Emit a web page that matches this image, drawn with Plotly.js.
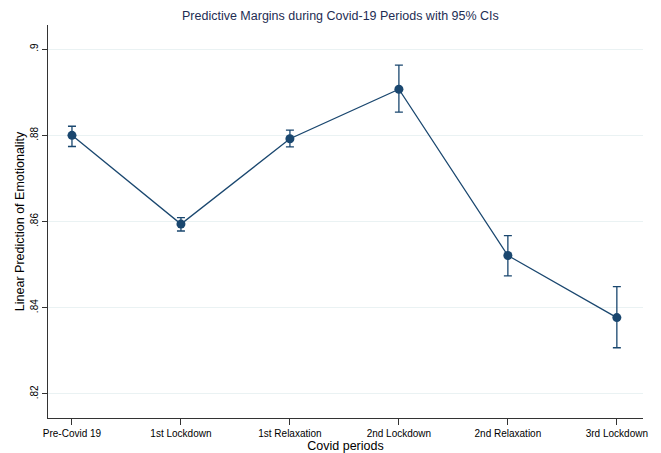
<!DOCTYPE html>
<html><head><meta charset="utf-8">
<script src="https://cdn.plot.ly/plotly-3.0.1.min.js"></script>
<style>body{margin:0;background:#fff}#c{width:661px;height:453px}</style>
</head><body><div id="c"></div>
<script>
const periods = ["Pre-Covid 19","1st Lockdown","1st Relaxation","2nd Lockdown","2nd Relaxation","3rd Lockdown"];
const margins = [0.8800, 0.8594, 0.8792, 0.8907, 0.8521, 0.8377];
const ciUpper = [0.8821, 0.8609, 0.8812, 0.8963, 0.8567, 0.8449];
const ciLower = [0.8774, 0.8578, 0.8773, 0.8854, 0.8474, 0.8307];
const yTickVals = [0.82, 0.84, 0.86, 0.88, 0.9];
const yTickText = [".82", ".84", ".86", ".88", ".9"];

const idx = periods.map((_, i) => i);
const navy = "#1a476f";
const trace = {
  x: idx, y: margins, type: "scatter", mode: "lines+markers",
  line: {color: navy, width: 1.3},
  marker: {color: navy, size: 9},
  error_y: {type: "data", symmetric: false,
    array: margins.map((m, i) => ciUpper[i] - m),
    arrayminus: margins.map((m, i) => m - ciLower[i]),
    color: navy, thickness: 1.3, width: 4},
  hoverinfo: "skip"
};
const layout = {
  width: 661, height: 453,
  margin: {l: 48, r: 18, t: 25, b: 35},
  paper_bgcolor: "#fff", plot_bgcolor: "#fff",
  showlegend: false,
  font: {family: "Liberation Sans, Arial, sans-serif", color: "#000"},
  title: {text: "Predictive Margins during Covid-19 Periods with 95% CIs",
    font: {size: 12.5, color: "#1e2d53"}, x: 0.515, xanchor: "center", y: 0.965, yanchor: "middle"},
  xaxis: {
    range: [-0.22, 5.24], tickvals: idx, ticktext: periods,
    ticks: "outside", ticklen: 6, tickcolor: "#333", tickwidth: 1,
    showline: true, linecolor: "#333", linewidth: 1, zeroline: false, showgrid: false,
    tickfont: {size: 10, color: "#000"},
    title: {text: "Covid periods", font: {size: 12.5}, standoff: 1},
    automargin: false
  },
  yaxis: {
    range: [0.8144, 0.9056], tickvals: yTickVals, ticktext: yTickText,
    tickangle: -90, ticks: "outside", ticklen: 5, tickcolor: "#333", tickwidth: 1,
    showline: true, linecolor: "#333", linewidth: 1, zeroline: false,
    showgrid: true, gridcolor: "#eaf2f3", gridwidth: 1,
    tickfont: {size: 10, color: "#000"},
    title: {text: "Linear Prediction of Emotionality", font: {size: 12.5}, standoff: 1},
    automargin: false
  }
};
Plotly.newPlot("c", [trace], layout, {displayModeBar: false, staticPlot: true});
</script></body></html>
